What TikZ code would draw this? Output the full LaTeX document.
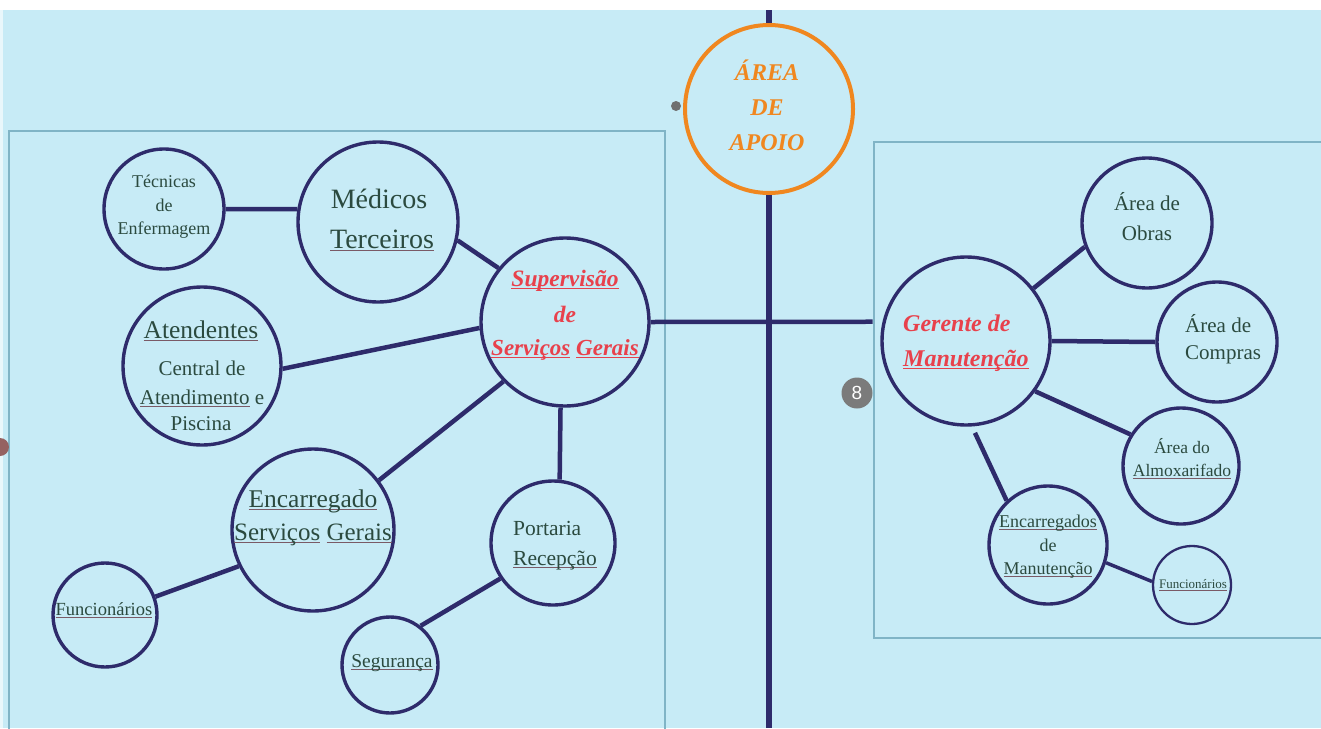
\documentclass[tikz,border=0pt]{standalone}
\usepackage{fontspec}
\setmainfont{Liberation Serif}
\setsansfont{Liberation Sans}
\definecolor{bg}{HTML}{C7EBF6}
\definecolor{navy}{HTML}{2E2B6B}
\definecolor{orng}{HTML}{F0871F}
\definecolor{redt}{HTML}{E8414C}
\definecolor{ink}{HTML}{2B4A3F}
\definecolor{boxc}{HTML}{80B4C6}
\definecolor{spell}{HTML}{7A5A66}
\definecolor{badge}{HTML}{7B7B7B}
\newsavebox\ulbox
\newcommand\spl[1]{\sbox\ulbox{#1}\rlap{\textcolor{spell}{\rule[-2.5pt]{\wd\ulbox}{0.7pt}}}\usebox\ulbox}
\newcommand\rul[1]{\sbox\ulbox{#1}\rlap{\rule[-3pt]{\wd\ulbox}{1.1pt}}\usebox\ulbox}
\newcommand\fs[1]{\fontsize{#1}{#1}\selectfont}
\tikzset{
  bub/.style={circle, draw=navy, line width=3.4pt, inner sep=0pt, minimum size=#1},
  link/.style={draw=navy, line width=4.5pt},
  spine/.style={draw=navy, line width=6pt},
  lbl/.style={text=ink, anchor=base, inner sep=0pt, font=\fs{#1}},
  lblw/.style={text=ink, anchor=base west, inner sep=0pt, font=\fs{#1}},
  hot/.style={text=redt, anchor=base, inner sep=0pt, font=\fs{#1}\bfseries\itshape},
  hotw/.style={text=redt, anchor=base west, inner sep=0pt, font=\fs{#1}\bfseries\itshape},
  apo/.style={text=orng, anchor=base, inner sep=0pt, font=\fs{24}\bfseries\itshape},
  frame/.style={draw=boxc, line width=2.5pt},
}
\begin{document}
\begin{tikzpicture}[x=1pt,y=-1pt]
\useasboundingbox (0,0) rectangle (1321,728);
% background
\fill[bg] (0,0) rectangle (1321,728);
\fill[white] (0,0) rectangle (1321,10);
\fill[white!60!bg] (0,10) rectangle (3,728);
% frames
\draw[frame] (9,131) rectangle (665,745);
\draw[frame] (874,142) rectangle (1340,638);
% spine coordinates
\coordinate (vtop) at (769,10);
\coordinate (vbot) at (769,728);
% bubbles
\node[bub=168pt, draw=orng, line width=4pt] (apoio) at (769,109) {};
\node[bub=168pt] (sup) at (565,322) {};
\node[bub=160pt] (med) at (378,222) {};
\node[bub=120pt] (tec) at (164,209) {};
\node[bub=158pt] (ate) at (202,366) {};
\node[bub=162pt] (enc) at (313,530) {};
\node[bub=124pt] (por) at (553,543) {};
\node[bub=104pt] (fun1) at (105,615) {};
\node[bub=96pt] (seg) at (390,665) {};
\node[bub=168pt] (ger) at (966,341) {};
\node[bub=130pt] (obr) at (1147,223) {};
\node[bub=120pt] (com) at (1217,342) {};
\node[bub=116pt] (alm) at (1181,466) {};
\node[bub=118pt] (encm) at (1048,545) {};
\node[bub=78pt, line width=2.3pt] (fun2) at (1192,585) {};
% connectors
\draw[spine] (vtop) -- (apoio.north);
\draw[spine] (apoio.south) -- (vbot);
\draw[link] (tec.0) -- (med.171);
\draw[link] (med.-13) -- (sup.141);
\draw[link] (ate.-2) -- (sup.184);
\draw[link] (sup.224) -- (enc.37);
\draw[link] (sup.-93) -- (por.84);
\draw[link] (enc.206) -- (fun1.20);
\draw[link] (por.214) -- (seg.52);
\draw[link, shorten >=10pt] (sup.0) -- (ger.167);
\draw[link] (ger.38) -- (obr.201);
\draw[link] (ger.0) -- (com.180);
\draw[link] (ger.-36) -- (alm.148);
\draw[link, shorten <=7pt] (ger.-86) -- (encm.133);
\draw[link, line width=3.5pt] (encm.-17) -- (fun2.175);
% texts: Area de apoio
\node[apo] (tA1) at (767,80) {ÁREA};
\node[apo] (tA2) at (767,115) {DE};
\node[apo] (tA3) at (767,150) {APOIO};
% Supervisao
\node[hot=23.5] (tS1) at (565,286) {\rul{Supervisão}};
\node[hot=23.5] (tS2) at (565,322) {de};
\node[hot=23] (tS3) at (565,355) {\rul{Serviços} \rul{Gerais}};
% Tecnicas
\node[lbl=18] (tT1) at (164,187) {Técnicas};
\node[lbl=18] (tT2) at (164,211) {de};
\node[lbl=18] (tT3) at (164,234) {Enfermagem};
% Medicos
\node[lbl=28] (tM1) at (379,208) {Médicos};
\node[lbl=28] (tM2) at (382,248) {\spl{Terceiros}};
% Atendentes
\node[lbl=25.5] (tAt1) at (201,338) {\spl{Atendentes}};
\node[lbl=21] (tAt2) at (202,375) {Central de};
\node[lbl=21] (tAt3) at (202,404) {\spl{Atendimento} e};
\node[lbl=21] (tAt4) at (201,430) {Piscina};
% Encarregado
\node[lbl=25.5] (tE1) at (313,507) {\spl{Encarregado}};
\node[lbl=25] (tE2) at (313,540) {\spl{Serviços} \spl{Gerais}};
% Portaria
\node[lblw=21.5] (tP1) at (513,535) {Portaria};
\node[lblw=21.5] (tP2) at (513,565) {\spl{Recepção}};
% Funcionarios left, Seguranca
\node[lbl=18.5] (tF1) at (104,615) {\spl{Funcionários}};
\node[lbl=19.5] (tSg) at (392,667) {\spl{Segurança}};
% Gerente
\node[hotw=24] (tG1) at (903,331) {Gerente de};
\node[hotw=24] (tG2) at (903,366) {\rul{Manutenção}};
% right bubbles
\node[lbl=21] (tO1) at (1147,210) {Área de};
\node[lbl=21] (tO2) at (1147,240) {Obras};
\node[lblw=21] (tC1) at (1185,332) {Área de};
\node[lblw=21] (tC2) at (1185,359) {Compras};
\node[lbl=17.5] (tAl1) at (1182,453) {Área do};
\node[lbl=17.5] (tAl2) at (1182,476) {\spl{Almoxarifado}};
\node[lbl=18] (tEm1) at (1048,527) {\spl{Encarregados}};
\node[lbl=18] (tEm2) at (1048,551) {de};
\node[lbl=18] (tEm3) at (1048,574) {\spl{Manutenção}};
\node[lbl=13] (tF2) at (1193,588) {\spl{Funcionários}};
% small grey markers
\node[circle, fill=badge, inner sep=0pt, minimum size=31pt, text=white, font=\sffamily\fs{19}] (b8) at (857,393) {8};
\node[circle, fill=badge!90!black, inner sep=0pt, minimum size=10pt] (dot) at (676,106) {};
\node[circle, fill=badge!80!red, inner sep=0pt, minimum size=18pt] (edge) at (0,447) {};
\end{tikzpicture}
\end{document}
